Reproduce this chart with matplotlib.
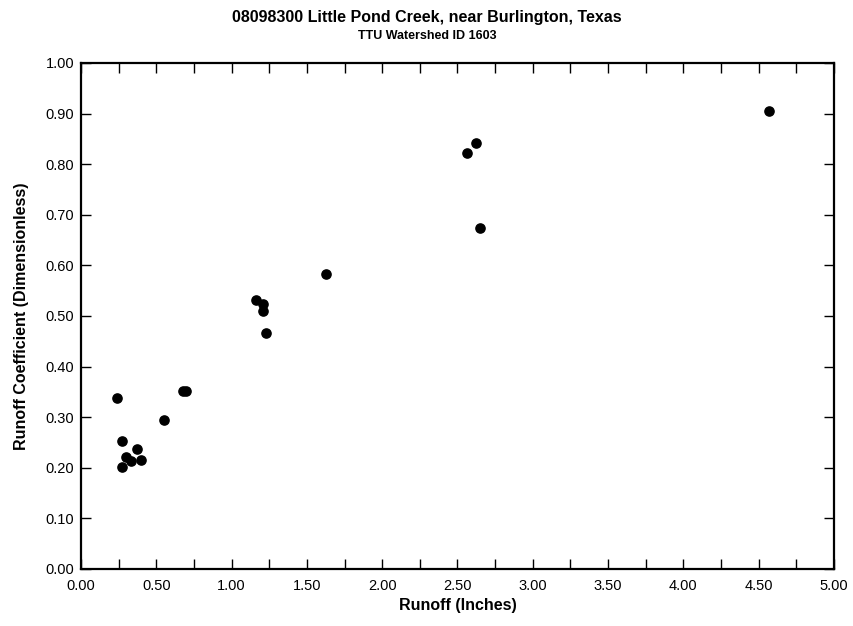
import matplotlib
matplotlib.use("Agg")
import matplotlib.pyplot as plt
from matplotlib.ticker import MultipleLocator, FormatStrFormatter

plt.rcParams['font.family'] = ['Liberation Sans', 'DejaVu Sans']

# runoff (inches) and runoff coefficient
runoff = [4.57, 2.62, 2.56, 2.65, 1.63, 1.16, 1.21, 1.21, 1.23, 0.24,
          0.68, 0.70, 0.55, 0.27, 0.37, 0.30, 0.33, 0.40, 0.27]
coef = [0.905, 0.842, 0.823, 0.674, 0.583, 0.532, 0.523, 0.510, 0.466, 0.337,
        0.352, 0.352, 0.294, 0.252, 0.238, 0.222, 0.214, 0.215, 0.201]

fig = plt.figure(figsize=(8.54, 6.26), dpi=100)
ax = fig.add_axes([0.0948, 0.0911, 0.8818, 0.8083])

ax.scatter(runoff, coef, s=44, color='black', zorder=3, clip_on=False)

ax.set_xlim(0, 5)
ax.set_ylim(0, 1)
ax.xaxis.set_major_locator(MultipleLocator(0.5))
ax.xaxis.set_minor_locator(MultipleLocator(0.25))
ax.yaxis.set_major_locator(MultipleLocator(0.1))
ax.xaxis.set_major_formatter(FormatStrFormatter('%.2f'))
ax.yaxis.set_major_formatter(FormatStrFormatter('%.2f'))
ax.tick_params(which='both', direction='in', top=True, right=True,
               length=7, width=1, labelsize=10.5)
ax.tick_params(axis='x', pad=7)
ax.tick_params(axis='y', pad=5)
for sp in ax.spines.values():
    sp.set_linewidth(1.6)

ax.set_xlabel('Runoff (Inches)', fontsize=11.5, fontweight='bold', labelpad=4)
ax.set_ylabel('Runoff Coefficient (Dimensionless)', fontsize=11.5, fontweight='bold', labelpad=12)

fig.text(0.5, 0.972, '08098300 Little Pond Creek, near Burlington, Texas',
         ha='center', va='center', fontsize=11.5, fontweight='bold')
fig.text(0.5, 0.942, 'TTU Watershed ID 1603',
         ha='center', va='center', fontsize=9, fontweight='bold')

fig.savefig('out.png', dpi=100)
